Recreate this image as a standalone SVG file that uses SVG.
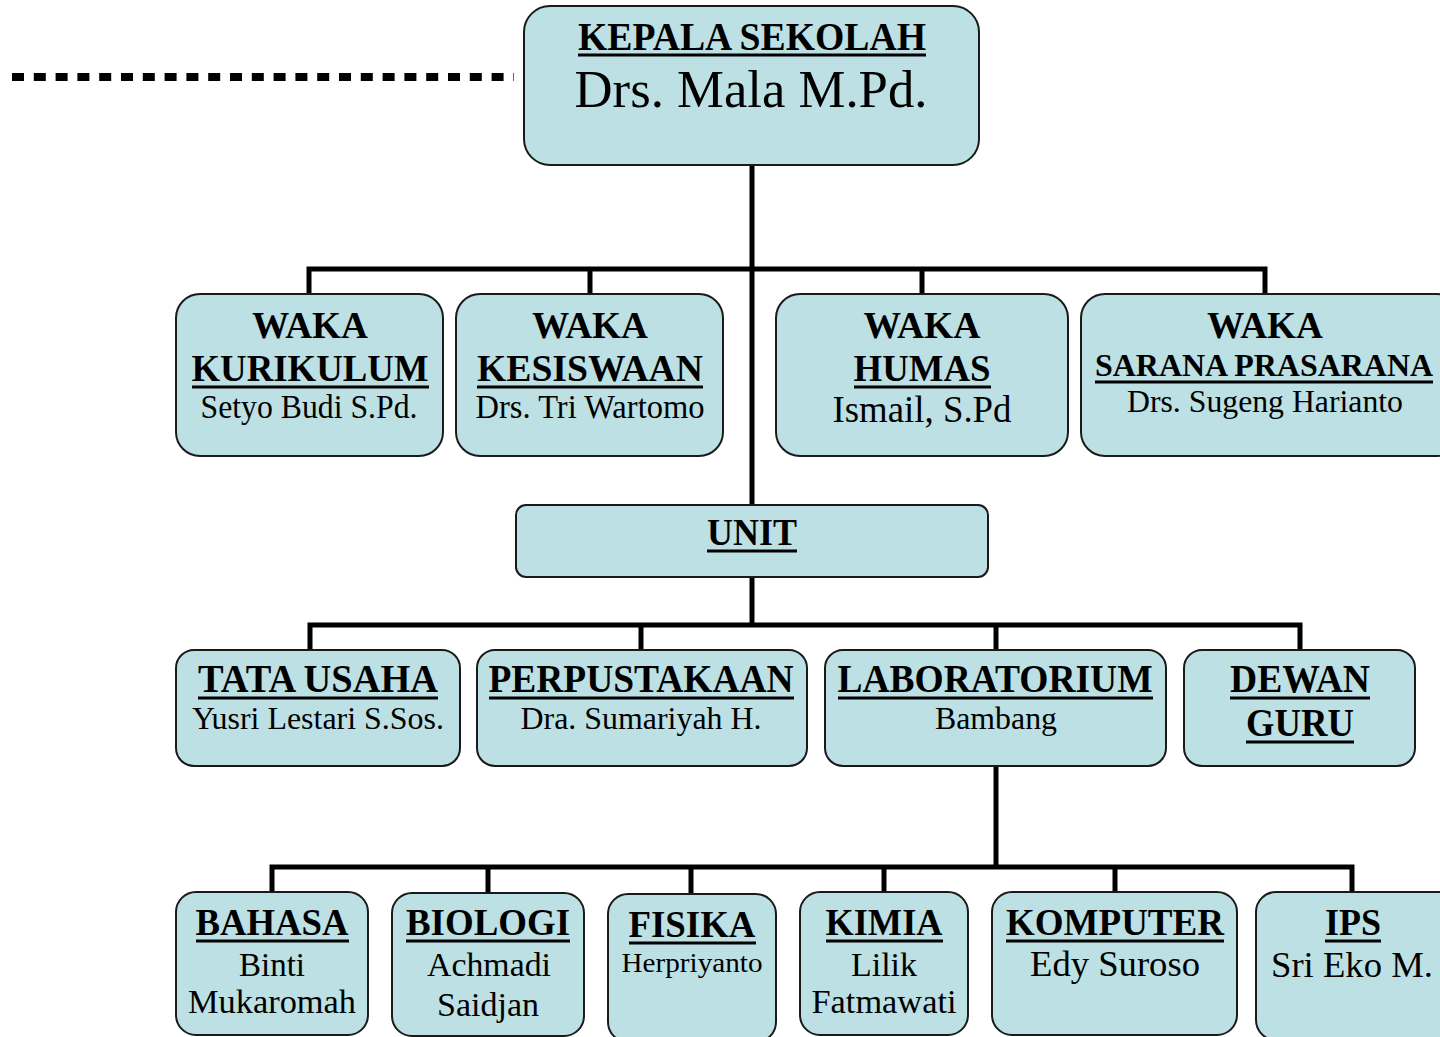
<svg xmlns="http://www.w3.org/2000/svg" width="1440" height="1037" viewBox="0 0 1440 1037">
<style>
.box{fill:#bce0e4;stroke:#1a1a1a;stroke-width:2}
.t{font-family:"Liberation Serif","Times New Roman",serif;fill:#000;text-anchor:middle}
.b{font-weight:bold}
.ul{stroke:#000;stroke-width:3}
.c{stroke:#000;stroke-width:5;fill:none}
</style>
<rect width="1440" height="1037" fill="#fff"/>
<g id="connectors">
<line x1="12" y1="77" x2="514" y2="77" stroke="#000" stroke-width="8" stroke-dasharray="12 9.8"/>
<line class="c" x1="752" y1="165" x2="752" y2="505"/>
<polyline class="c" points="309,294 309,269 1265,269 1265,294"/>
<line class="c" x1="590" y1="269" x2="590" y2="294"/>
<line class="c" x1="922" y1="269" x2="922" y2="294"/>
<line class="c" x1="752" y1="577" x2="752" y2="625"/>
<polyline class="c" points="310,650 310,625 1300,625 1300,650"/>
<line class="c" x1="641" y1="625" x2="641" y2="650"/>
<line class="c" x1="996" y1="625" x2="996" y2="650"/>
<line class="c" x1="996" y1="766" x2="996" y2="867"/>
<polyline class="c" points="272,892 272,867 1352,867 1352,892"/>
<line class="c" x1="488" y1="867" x2="488" y2="892"/>
<line class="c" x1="691" y1="867" x2="691" y2="894"/>
<line class="c" x1="884" y1="867" x2="884" y2="892"/>
<line class="c" x1="1115" y1="867" x2="1115" y2="892"/>
</g>
<g id="kepala">
<rect class="box" x="524" y="6" width="455" height="159" rx="26"/>
<text class="t b" x="752" y="50" font-size="40" textLength="348" lengthAdjust="spacingAndGlyphs">KEPALA SEKOLAH</text>
<line class="ul" x1="578" y1="55" x2="926" y2="55"/>
<text class="t" x="751" y="107" font-size="52" textLength="353" lengthAdjust="spacingAndGlyphs">Drs. Mala M.Pd.</text>
</g>
<g id="waka-kurikulum">
<rect class="box" x="176" y="294" width="267" height="162" rx="24"/>
<text class="t b" x="310" y="338" font-size="38" textLength="116" lengthAdjust="spacingAndGlyphs">WAKA</text>
<text class="t b" x="310" y="381" font-size="38" textLength="237" lengthAdjust="spacingAndGlyphs">KURIKULUM</text>
<line class="ul" x1="192" y1="387" x2="429" y2="387"/>
<text class="t" x="309" y="418" font-size="33" textLength="217" lengthAdjust="spacingAndGlyphs">Setyo Budi S.Pd.</text>
</g>
<g id="waka-kesiswaan">
<rect class="box" x="456" y="294" width="267" height="162" rx="24"/>
<text class="t b" x="590" y="338" font-size="38" textLength="116" lengthAdjust="spacingAndGlyphs">WAKA</text>
<text class="t b" x="590" y="381" font-size="38" textLength="226" lengthAdjust="spacingAndGlyphs">KESISWAAN</text>
<line class="ul" x1="477" y1="387" x2="703" y2="387"/>
<text class="t" x="590" y="418" font-size="33" textLength="229" lengthAdjust="spacingAndGlyphs">Drs. Tri Wartomo</text>
</g>
<g id="waka-humas">
<rect class="box" x="776" y="294" width="292" height="162" rx="24"/>
<text class="t b" x="922" y="338" font-size="38" textLength="117" lengthAdjust="spacingAndGlyphs">WAKA</text>
<text class="t b" x="922" y="381" font-size="38" textLength="137" lengthAdjust="spacingAndGlyphs">HUMAS</text>
<line class="ul" x1="854" y1="387" x2="991" y2="387"/>
<text class="t" x="922" y="422" font-size="37" textLength="179" lengthAdjust="spacingAndGlyphs">Ismail, S.Pd</text>
</g>
<g id="waka-sarana">
<rect class="box" x="1081" y="294" width="380" height="162" rx="24"/>
<text class="t b" x="1265" y="338" font-size="38" textLength="116" lengthAdjust="spacingAndGlyphs">WAKA</text>
<text class="t b" x="1264" y="376" font-size="32" textLength="338" lengthAdjust="spacingAndGlyphs">SARANA PRASARANA</text>
<line class="ul" x1="1095" y1="382" x2="1433" y2="382"/>
<text class="t" x="1265" y="412" font-size="31" textLength="276" lengthAdjust="spacingAndGlyphs">Drs. Sugeng Harianto</text>
</g>
<g id="unit">
<rect class="box" x="516" y="505" width="472" height="72" rx="10"/>
<text class="t b" x="752" y="545" font-size="38" textLength="90" lengthAdjust="spacingAndGlyphs">UNIT</text>
<line class="ul" x1="707" y1="551" x2="797" y2="551"/>
</g>
<g id="tata-usaha">
<rect class="box" x="176" y="650" width="284" height="116" rx="18"/>
<text class="t b" x="318" y="692" font-size="39" textLength="240" lengthAdjust="spacingAndGlyphs">TATA USAHA</text>
<line class="ul" x1="198" y1="698" x2="438" y2="698"/>
<text class="t" x="318" y="729" font-size="32" textLength="252" lengthAdjust="spacingAndGlyphs">Yusri Lestari S.Sos.</text>
</g>
<g id="perpustakaan">
<rect class="box" x="477" y="650" width="330" height="116" rx="18"/>
<text class="t b" x="641" y="692" font-size="39" textLength="305" lengthAdjust="spacingAndGlyphs">PERPUSTAKAAN</text>
<line class="ul" x1="489" y1="698" x2="794" y2="698"/>
<text class="t" x="641" y="729" font-size="32" textLength="241" lengthAdjust="spacingAndGlyphs">Dra. Sumariyah H.</text>
</g>
<g id="laboratorium">
<rect class="box" x="825" y="650" width="341" height="116" rx="18"/>
<text class="t b" x="995" y="692" font-size="39" textLength="315" lengthAdjust="spacingAndGlyphs">LABORATORIUM</text>
<line class="ul" x1="838" y1="698" x2="1153" y2="698"/>
<text class="t" x="996" y="729" font-size="32" textLength="122" lengthAdjust="spacingAndGlyphs">Bambang</text>
</g>
<g id="dewan-guru">
<rect class="box" x="1184" y="650" width="231" height="116" rx="18"/>
<text class="t b" x="1300" y="692" font-size="39" textLength="140" lengthAdjust="spacingAndGlyphs">DEWAN</text>
<line class="ul" x1="1230" y1="698" x2="1370" y2="698"/>
<text class="t b" x="1300" y="736" font-size="39" textLength="108" lengthAdjust="spacingAndGlyphs">GURU</text>
<line class="ul" x1="1246" y1="742" x2="1354" y2="742"/>
</g>
<g id="bahasa">
<rect class="box" x="176" y="892" width="192" height="143" rx="20"/>
<text class="t b" x="272" y="935" font-size="37" textLength="153" lengthAdjust="spacingAndGlyphs">BAHASA</text>
<line class="ul" x1="196" y1="941" x2="349" y2="941"/>
<text class="t" x="272" y="976" font-size="34" textLength="66" lengthAdjust="spacingAndGlyphs">Binti</text>
<text class="t" x="272" y="1013" font-size="34" textLength="168" lengthAdjust="spacingAndGlyphs">Mukaromah</text>
</g>
<g id="biologi">
<rect class="box" x="392" y="893" width="192" height="143" rx="20"/>
<text class="t b" x="488" y="935" font-size="37" textLength="164" lengthAdjust="spacingAndGlyphs">BIOLOGI</text>
<line class="ul" x1="406" y1="941" x2="570" y2="941"/>
<text class="t" x="489" y="976" font-size="34" textLength="124" lengthAdjust="spacingAndGlyphs">Achmadi</text>
<text class="t" x="488" y="1016" font-size="34" textLength="102" lengthAdjust="spacingAndGlyphs">Saidjan</text>
</g>
<g id="fisika">
<rect class="box" x="608" y="894" width="168" height="148" rx="20"/>
<text class="t b" x="692" y="937" font-size="37" textLength="127" lengthAdjust="spacingAndGlyphs">FISIKA</text>
<line class="ul" x1="629" y1="943" x2="756" y2="943"/>
<text class="t" x="692" y="972" font-size="28" textLength="141" lengthAdjust="spacingAndGlyphs">Herpriyanto</text>
</g>
<g id="kimia">
<rect class="box" x="800" y="892" width="168" height="143" rx="20"/>
<text class="t b" x="884" y="935" font-size="37" textLength="117" lengthAdjust="spacingAndGlyphs">KIMIA</text>
<line class="ul" x1="826" y1="941" x2="943" y2="941"/>
<text class="t" x="884" y="976" font-size="34" textLength="66" lengthAdjust="spacingAndGlyphs">Lilik</text>
<text class="t" x="884" y="1013" font-size="34" textLength="145" lengthAdjust="spacingAndGlyphs">Fatmawati</text>
</g>
<g id="komputer">
<rect class="box" x="992" y="892" width="245" height="143" rx="20"/>
<text class="t b" x="1115" y="935" font-size="37" textLength="218" lengthAdjust="spacingAndGlyphs">KOMPUTER</text>
<line class="ul" x1="1006" y1="941" x2="1224" y2="941"/>
<text class="t" x="1115" y="976" font-size="35" textLength="170" lengthAdjust="spacingAndGlyphs">Edy Suroso</text>
</g>
<g id="ips">
<rect class="box" x="1256" y="892" width="210" height="148" rx="20"/>
<text class="t b" x="1353" y="935" font-size="37" textLength="56" lengthAdjust="spacingAndGlyphs">IPS</text>
<line class="ul" x1="1325" y1="941" x2="1381" y2="941"/>
<text class="t" x="1352" y="977" font-size="35" textLength="162" lengthAdjust="spacingAndGlyphs">Sri Eko M.</text>
</g>
</svg>
